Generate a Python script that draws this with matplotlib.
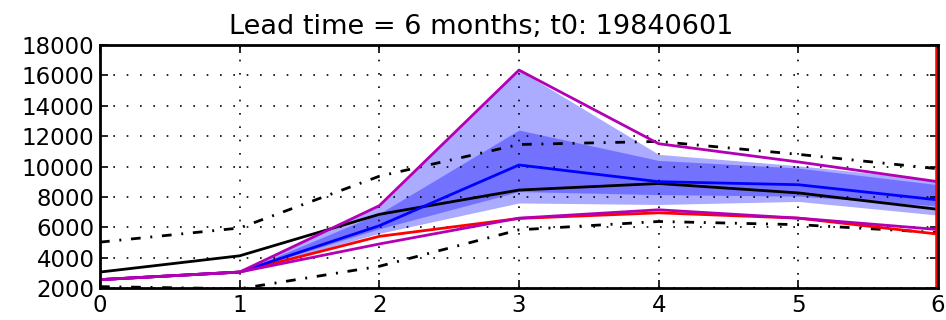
import matplotlib
matplotlib.use("Agg")

import matplotlib.pyplot as plt
import numpy as np

# lead months
leads = [0, 1, 2, 3, 4, 5, 6]

# observed (black) and its bounds (dash-dot)
obs = [3050, 4120, 6850, 8450, 8880, 8260, 7180]
obsUpper = [5020, 5950, 9360, 11450, 11650, 10800, 9850]
obsLower = [2090, 1950, 3430, 5830, 6380, 6170, 5650]

# forecast ensemble
ensMean = [2550, 3050, 6100, 10100, 9000, 8800, 7800]
ensMax = [2550, 3050, 7420, 16350, 11500, 10300, 9000]
ensMin = [2550, 3050, 4900, 6600, 7150, 6600, 5850]
redLine = [2550, 3050, 5400, 6580, 6950, 6600, 5550]

# shaded spreads
outerHi = [2550, 3050, 7400, 16350, 10800, 10050, 9100]
outerLo = [2550, 3050, 5600, 7600, 7500, 7700, 6800]
innerHi = [2550, 3050, 6900, 12400, 10400, 9900, 8800]
innerLo = [2550, 3050, 5900, 8350, 8150, 8050, 7400]

leadTime = 6
t0 = "19840601"

fig = plt.figure(figsize=(9.46, 3.2), dpi=100)
ax = fig.add_axes([100 / 946, 1 - 288 / 320, 838 / 946, 243 / 320])

ax.fill_between(leads, outerLo, outerHi, color="blue", alpha=0.33, linewidth=0)
ax.fill_between(leads, innerLo, innerHi, color="blue", alpha=0.33, linewidth=0)

dashDot = (0, (3.5, 3.5, 0.7, 3.5))
ax.plot(leads, obsUpper, color="k", linestyle=dashDot, linewidth=2)
ax.plot(leads, obsLower, color="k", linestyle=dashDot, linewidth=2)
ax.plot(leads, obs, color="k", linewidth=2)
ax.plot(leads, redLine, color="r", linewidth=2)
ax.plot(leads, ensMean, color="b", linewidth=2)
ax.plot(leads, ensMax, color="#b400b4", linewidth=2)
ax.plot(leads, ensMin, color="#b400b4", linewidth=2)
ax.axvline(leadTime, color="r", linewidth=4)

ax.set_xlim(0, 6)
ax.set_ylim(2000, 18000)
ax.set_xticks(leads)
ax.set_yticks(np.arange(2000, 18001, 2000))
ax.grid(True, color="k", linestyle=(0, (1, 7)), linewidth=1.2)
ax.tick_params(direction="in", top=True, right=True, length=6, width=1.2,
               labelsize=16.5, pad=4)
for sp in ax.spines.values():
    sp.set_linewidth(2)

ax.set_title("Lead time = " + str(leadTime) + " months; t0: " + t0,
             fontsize=19.5, x=0.455, pad=8)

fig.savefig("out.png", dpi=100)
